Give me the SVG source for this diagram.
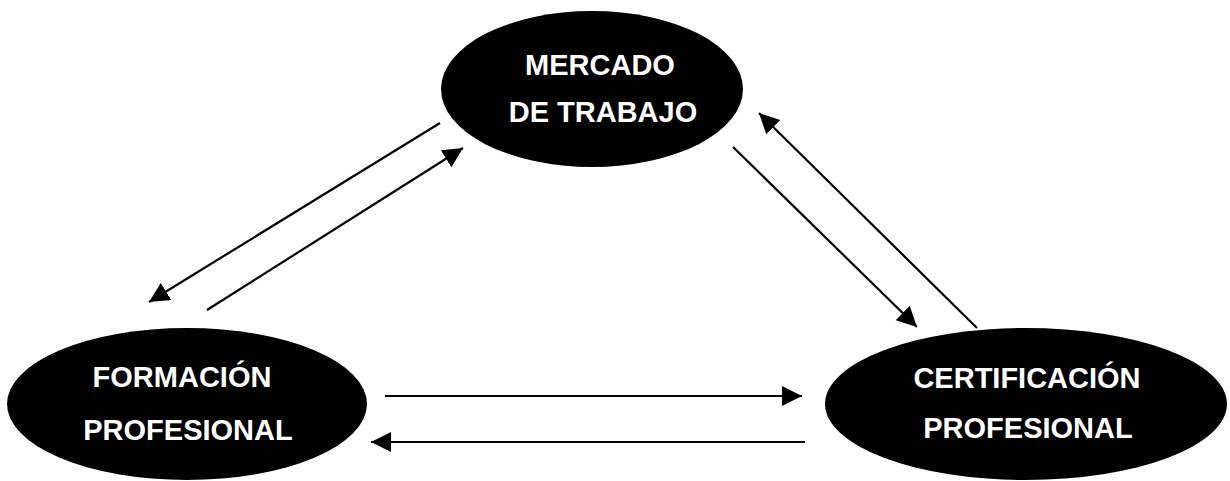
<svg xmlns="http://www.w3.org/2000/svg" width="1230" height="481" viewBox="0 0 1230 481">
<style>
.node ellipse{fill:#000}
.node text{fill:#fff;font-family:"Liberation Sans",Arial,sans-serif;font-weight:bold;font-size:29px;text-anchor:middle}
.conn line{stroke:#000;stroke-width:2.2;marker-end:url(#ah)}
</style>
<defs>
<marker id="ah" markerUnits="userSpaceOnUse" markerWidth="22" markerHeight="22" refX="20" refY="10" orient="auto" viewBox="0 0 22 20">
<path d="M0,0 L20,10 L0,20 Z" fill="#000"/>
</marker>
</defs>
<rect width="1230" height="481" fill="#fff"/>
<g id="mercado" class="node">
<ellipse cx="592" cy="89" rx="151" ry="78"/>
<text x="600" y="75">MERCADO</text>
<text x="603" y="122">DE TRABAJO</text>
</g>
<g id="formacion" class="node">
<ellipse cx="187" cy="404" rx="180" ry="76"/>
<text x="182" y="387">FORMACIÓN</text>
<text x="188" y="440">PROFESIONAL</text>
</g>
<g id="certificacion" class="node">
<ellipse cx="1026" cy="404" rx="201" ry="76"/>
<text x="1027" y="388">CERTIFICACIÓN</text>
<text x="1028" y="438">PROFESIONAL</text>
</g>
<g id="connectors" class="conn">
<line x1="440" y1="123" x2="149" y2="302"/>
<line x1="207" y1="310" x2="463" y2="148"/>
<line x1="733" y1="147" x2="917" y2="327"/>
<line x1="977" y1="328" x2="759" y2="113"/>
<line x1="385" y1="396" x2="802" y2="396"/>
<line x1="805" y1="442" x2="371" y2="442"/>
</g>
</svg>
